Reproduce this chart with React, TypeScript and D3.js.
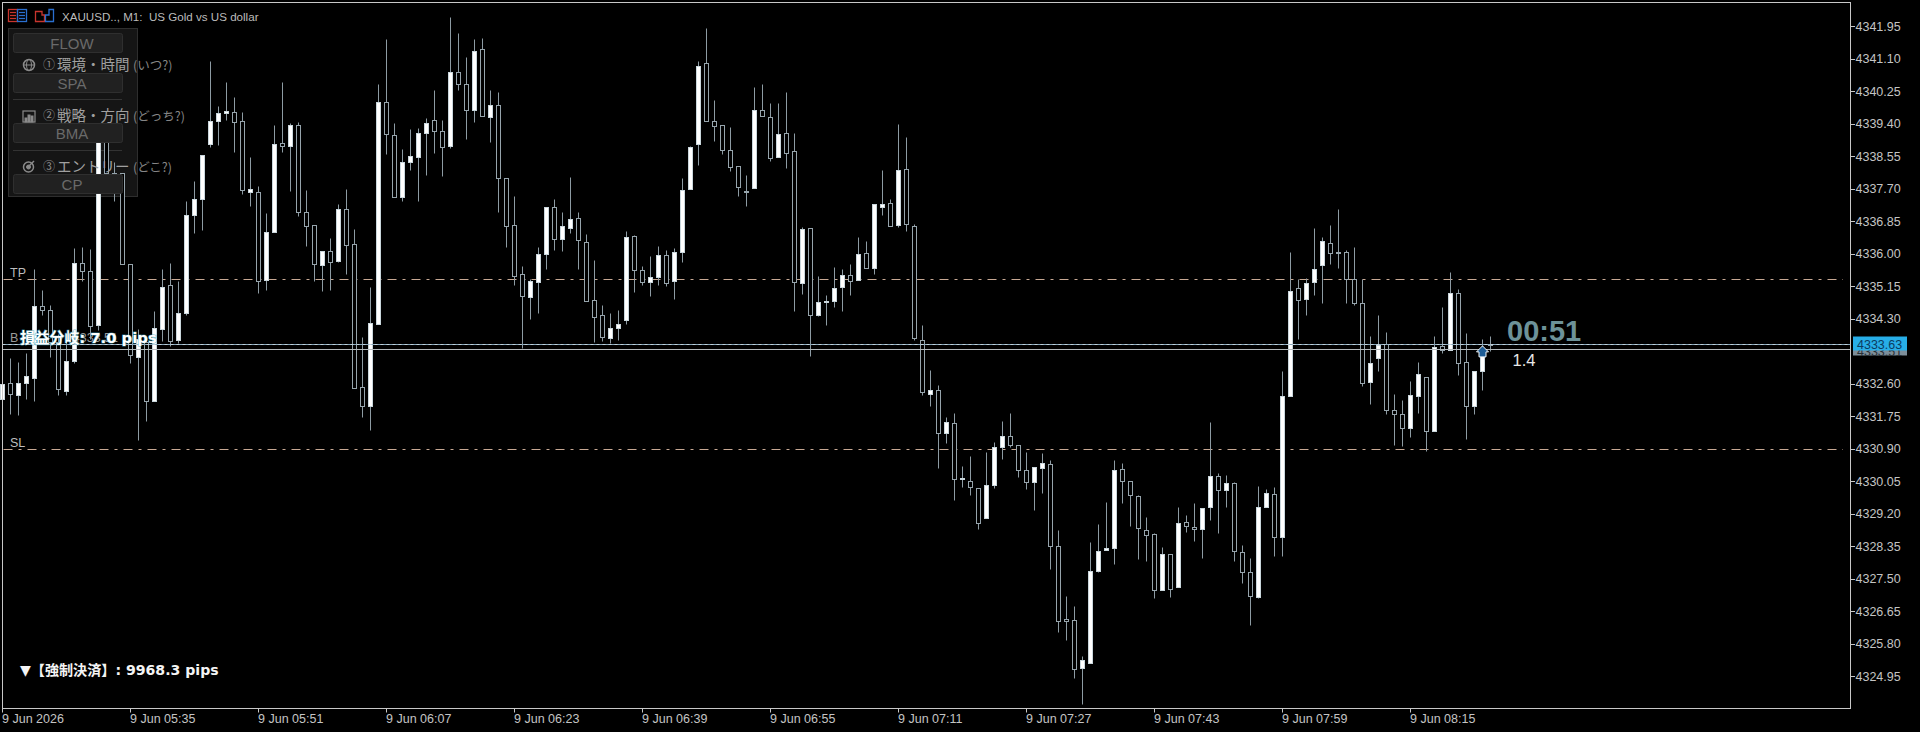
import React, { useEffect, useRef } from 'react';
import * as d3 from 'd3';

const opens = [
  4332.19, 4332.62, 4332.31, 4332.62, 4332.75, 4334.64, 4334.53, 4333.68, 4332.40, 4333.20,
  4335.76, 4335.54, 4334.15, 4339.25, 4338.12, 4338.11, 4335.74, 4333.30, 4333.68, 4332.14,
  4334.04, 4335.19, 4333.74, 4334.45, 4337.02, 4337.44, 4338.86, 4339.48, 4339.67, 4339.71,
  4339.48, 4337.61, 4337.62, 4335.31, 4336.57, 4338.90, 4338.81, 4339.37, 4337.08, 4336.75,
  4335.70, 4336.08, 4335.80, 4337.16, 4336.26, 4332.52, 4332.01, 4334.17, 4339.97, 4339.11,
  4337.48, 4338.39, 4338.53, 4339.16, 4339.50, 4339.21, 4338.81, 4340.76, 4340.44, 4339.76,
  4341.36, 4339.58, 4339.89, 4337.98, 4336.76, 4335.46, 4334.87, 4335.25, 4336.00, 4337.23,
  4336.39, 4336.68, 4336.94, 4336.31, 4334.79, 4334.40, 4333.80, 4334.06, 4334.26, 4336.47,
  4335.58, 4335.25, 4335.38, 4335.97, 4335.28, 4336.05, 4337.70, 4338.87, 4340.99, 4339.47,
  4339.37, 4338.72, 4338.30, 4337.63, 4337.72, 4339.76, 4339.58, 4338.53, 4339.16, 4338.69,
  4335.24, 4336.68, 4334.40, 4334.73, 4334.76, 4335.13, 4335.45, 4335.32, 4336.02, 4335.63,
  4337.23, 4337.33, 4336.76, 4338.22, 4336.73, 4333.74, 4332.34, 4332.44, 4331.32, 4331.58,
  4330.11, 4330.06, 4329.88, 4329.08, 4329.96, 4330.95, 4331.24, 4330.99, 4330.35, 4330.03,
  4330.41, 4330.50, 4328.35, 4326.45, 4326.42, 4325.17, 4325.30, 4327.70, 4328.26, 4328.31,
  4330.37, 4330.06, 4329.67, 4328.79, 4328.67, 4327.21, 4328.15, 4327.29, 4328.99, 4328.86,
  4328.80, 4329.38, 4330.19, 4329.82, 4330.01, 4328.20, 4327.68, 4327.03, 4329.38, 4329.73,
  4328.60, 4332.28, 4335.11, 4334.82, 4335.26, 4335.71, 4336.28, 4336.05, 4336.05, 4335.34,
  4334.72, 4332.65, 4333.28, 4333.64, 4331.92, 4331.81, 4331.45, 4332.28, 4332.78, 4331.37,
  4333.59, 4333.49, 4334.98, 4333.17, 4332.02, 4332.94, 4333.63,
];

const highs = [
  4332.60, 4333.28, 4333.17, 4333.41, 4335.60, 4335.04, 4334.67, 4333.89, 4333.76, 4336.15,
  4336.18, 4336.13, 4339.25, 4339.35, 4338.41, 4338.11, 4335.74, 4334.02, 4333.76, 4334.51,
  4335.59, 4335.76, 4335.28, 4337.37, 4337.90, 4338.59, 4341.05, 4339.86, 4340.49, 4340.10,
  4339.71, 4338.53, 4337.76, 4337.07, 4339.37, 4340.49, 4339.42, 4339.44, 4337.66, 4336.75,
  4336.07, 4336.40, 4337.29, 4337.70, 4336.66, 4333.83, 4335.13, 4340.45, 4341.62, 4339.42,
  4338.74, 4339.27, 4339.29, 4339.55, 4340.29, 4339.50, 4342.20, 4341.78, 4341.15, 4341.62,
  4341.65, 4340.29, 4340.23, 4337.98, 4337.50, 4335.67, 4335.34, 4336.18, 4337.23, 4337.42,
  4337.10, 4338.01, 4337.10, 4336.52, 4335.84, 4334.67, 4334.45, 4334.54, 4336.59, 4336.50,
  4335.69, 4335.95, 4336.21, 4336.11, 4336.15, 4337.98, 4338.83, 4341.04, 4341.91, 4340.03,
  4339.37, 4339.32, 4338.30, 4338.05, 4340.36, 4340.43, 4339.95, 4339.95, 4340.23, 4339.16,
  4336.70, 4336.68, 4335.41, 4334.92, 4335.66, 4335.60, 4335.72, 4336.44, 4336.34, 4337.30,
  4338.18, 4337.42, 4339.40, 4339.06, 4336.79, 4334.13, 4332.97, 4332.57, 4331.73, 4331.84,
  4330.46, 4330.70, 4329.88, 4330.82, 4331.08, 4331.64, 4331.84, 4330.99, 4330.82, 4330.42,
  4330.79, 4330.61, 4328.78, 4327.06, 4326.80, 4325.49, 4328.47, 4328.94, 4329.52, 4330.62,
  4330.53, 4330.06, 4329.69, 4329.12, 4328.70, 4328.33, 4328.15, 4329.38, 4329.17, 4329.49,
  4329.35, 4331.60, 4330.27, 4330.22, 4330.02, 4328.39, 4328.05, 4329.94, 4329.85, 4329.90,
  4332.94, 4336.05, 4335.34, 4335.37, 4336.68, 4336.44, 4336.76, 4337.16, 4336.10, 4336.18,
  4335.34, 4333.86, 4334.40, 4333.96, 4332.34, 4332.18, 4332.68, 4333.17, 4332.78, 4333.86,
  4334.61, 4335.53, 4335.08, 4333.93, 4332.94, 4333.76, 4333.86,
];

const lows = [
  4332.19, 4331.82, 4331.79, 4332.19, 4332.16, 4334.41, 4333.31, 4332.32, 4332.32, 4333.15,
  4335.28, 4333.76, 4334.00, 4338.10, 4337.37, 4335.74, 4333.15, 4331.14, 4331.62, 4332.14,
  4333.71, 4333.60, 4333.67, 4334.41, 4336.55, 4336.63, 4338.79, 4338.84, 4339.51, 4338.65,
  4337.55, 4337.26, 4334.98, 4335.05, 4336.57, 4338.65, 4337.65, 4337.00, 4336.20, 4335.28,
  4335.02, 4335.06, 4335.79, 4335.46, 4332.49, 4331.73, 4331.40, 4334.17, 4338.62, 4337.48,
  4337.37, 4338.18, 4337.37, 4338.05, 4338.63, 4338.03, 4338.77, 4340.29, 4338.99, 4339.44,
  4339.60, 4338.93, 4337.08, 4336.17, 4335.19, 4333.54, 4334.30, 4334.45, 4335.60, 4336.11,
  4336.08, 4336.53, 4335.59, 4334.76, 4333.70, 4333.71, 4333.67, 4333.74, 4334.17, 4334.99,
  4335.19, 4334.89, 4335.19, 4335.15, 4334.83, 4335.78, 4337.70, 4338.31, 4339.47, 4338.94,
  4338.62, 4338.16, 4337.50, 4337.26, 4337.72, 4339.60, 4338.42, 4338.53, 4338.25, 4334.50,
  4334.96, 4333.32, 4334.37, 4334.15, 4334.60, 4334.50, 4334.93, 4335.32, 4335.62, 4335.46,
  4337.01, 4336.73, 4336.70, 4336.59, 4333.74, 4332.30, 4332.03, 4330.40, 4331.04, 4329.55,
  4329.90, 4329.70, 4328.81, 4329.08, 4329.88, 4330.64, 4330.96, 4330.15, 4329.84, 4329.31,
  4329.75, 4327.77, 4326.10, 4325.91, 4324.92, 4324.24, 4325.30, 4327.67, 4328.26, 4327.90,
  4329.49, 4328.87, 4328.03, 4327.96, 4326.99, 4327.21, 4327.03, 4327.29, 4328.73, 4328.50,
  4328.05, 4329.03, 4328.70, 4329.38, 4327.96, 4327.39, 4326.30, 4327.00, 4329.38, 4328.11,
  4328.11, 4332.28, 4333.76, 4334.41, 4334.91, 4334.72, 4335.74, 4335.63, 4334.72, 4334.67,
  4332.53, 4332.06, 4332.93, 4331.81, 4331.00, 4330.98, 4331.21, 4331.84, 4330.84, 4331.37,
  4333.41, 4333.49, 4332.83, 4331.16, 4331.81, 4332.45, 4333.45,
];

const closes = [
  4332.60, 4332.34, 4332.62, 4332.81, 4334.64, 4334.52, 4333.68, 4332.47, 4333.20, 4335.76,
  4335.54, 4334.10, 4339.25, 4338.12, 4338.10, 4335.74, 4333.36, 4333.76, 4332.14, 4334.06,
  4335.13, 4333.71, 4334.44, 4337.02, 4337.44, 4338.59, 4339.48, 4339.69, 4339.73, 4339.45,
  4337.68, 4337.70, 4335.28, 4336.57, 4338.87, 4338.81, 4339.37, 4337.08, 4336.72, 4335.74,
  4336.07, 4335.79, 4337.17, 4336.22, 4332.49, 4332.01, 4334.19, 4339.97, 4339.14, 4337.48,
  4338.39, 4338.56, 4339.16, 4339.42, 4339.21, 4338.79, 4340.76, 4340.44, 4339.76, 4341.31,
  4339.60, 4339.89, 4337.97, 4336.72, 4335.41, 4334.89, 4335.29, 4336.00, 4337.23, 4336.39,
  4336.72, 4336.91, 4336.36, 4334.76, 4334.35, 4333.83, 4334.06, 4334.17, 4336.44, 4335.58,
  4335.25, 4335.38, 4335.97, 4335.24, 4336.05, 4337.67, 4338.80, 4340.91, 4339.47, 4339.35,
  4338.72, 4338.26, 4337.75, 4337.61, 4339.76, 4339.60, 4338.50, 4339.14, 4338.63, 4335.25,
  4336.65, 4334.40, 4334.73, 4334.76, 4335.11, 4335.44, 4335.29, 4336.00, 4335.62, 4337.30,
  4337.30, 4336.73, 4338.19, 4336.78, 4333.79, 4332.38, 4332.43, 4331.32, 4331.60, 4330.11,
  4330.14, 4329.90, 4328.95, 4329.96, 4330.95, 4331.23, 4330.99, 4330.35, 4330.03, 4330.42,
  4330.52, 4328.35, 4326.39, 4326.40, 4325.14, 4325.37, 4327.71, 4328.23, 4328.31, 4330.35,
  4330.06, 4329.69, 4328.82, 4328.65, 4327.21, 4328.15, 4327.24, 4328.96, 4328.88, 4328.80,
  4329.35, 4330.19, 4329.82, 4330.01, 4328.23, 4327.68, 4327.05, 4329.38, 4329.75, 4328.60,
  4332.28, 4335.03, 4334.79, 4335.24, 4335.60, 4336.34, 4336.02, 4336.04, 4335.34, 4334.72,
  4332.62, 4333.14, 4333.62, 4331.92, 4331.81, 4331.45, 4332.31, 4332.86, 4331.37, 4333.56,
  4333.49, 4334.98, 4333.15, 4332.02, 4332.94, 4333.42, 4333.63,
];

const priceTicks = [
  4341.95, 4341.1, 4340.25, 4339.4, 4338.55, 4337.7, 4336.85, 4336.0, 4335.15, 4334.3,
  4332.6, 4331.75, 4330.9, 4330.05, 4329.2, 4328.35, 4327.5, 4326.65, 4325.8, 4324.95,
];
const timeTickBars = [0, 16, 32, 48, 64, 80, 96, 112, 128, 144, 160, 176];
const timeTickLabels = [
  '9 Jun 2026', '9 Jun 05:35', '9 Jun 05:51', '9 Jun 06:07', '9 Jun 06:23', '9 Jun 06:39',
  '9 Jun 06:55', '9 Jun 07:11', '9 Jun 07:27', '9 Jun 07:43', '9 Jun 07:59', '9 Jun 08:15',
];

const bid = 4333.63;
const breakEven = 4333.51;
const takeProfit = 4335.34;
const stopLoss = 4330.9;
const entryBar = 185;

const flowButtons = ['FLOW', 'SPA', 'BMA', 'CP'];
const flowSteps = [
  { no: '①', title: '環境・時間', hint: '(いつ?)' },
  { no: '②', title: '戦略・方向', hint: '(どっち?)' },
  { no: '③', title: 'エントリー', hint: '(どこ?)' },
];

const WIDTH = 1920;
const HEIGHT = 732;
const plot = { left: 2.5, top: 2.5, right: 1850.5, bottom: 708.5 };
const UI_FONT = '"Liberation Sans", "Noto Sans CJK JP", sans-serif';
const CJK_FONT = '"Noto Sans CJK JP", "Liberation Sans", sans-serif';
const BOLD_FONT = '"DejaVu Sans", "Noto Sans CJK JP", sans-serif';

const snap = (v: number) => Math.round(v - 0.5) + 0.5;

function App() {
  const svgRef = useRef<SVGSVGElement | null>(null);

  useEffect(() => {
    const svg = d3.select(svgRef.current);
    svg.selectAll('*').remove();

    const x = d3.scaleLinear().domain([0, 186]).range([2.5, 1490.5]);
    const y = d3.scaleLinear().domain([4324.123, 4342.583]).range([plot.bottom, plot.top]);
    const bars = d3.range(opens.length);

    svg.append('rect').attr('width', WIDTH).attr('height', HEIGHT).attr('fill', '#000');

    // panel sits behind the candles, only its buttons are on top
    svg.append('rect')
      .attr('x', 8.5).attr('y', 28.5).attr('width', 129).attr('height', 168)
      .attr('fill', '#151515').attr('stroke', '#2e2e2e');
    [99.5, 150.5].forEach((sy) => {
      svg.append('line')
        .attr('x1', 13).attr('x2', 122).attr('y1', sy).attr('y2', sy)
        .attr('stroke', '#333');
    });

    // TP / SL
    [takeProfit, stopLoss].forEach((p) => {
      svg.append('line')
        .attr('x1', plot.left + 1).attr('x2', 1843)
        .attr('y1', snap(y(p))).attr('y2', snap(y(p)))
        .attr('stroke', '#c8a994')
        .attr('stroke-dasharray', '9 6 3 6');
    });

    // candles
    const candles = svg.append('g');
    candles.selectAll('line')
      .data(bars)
      .enter()
      .append('line')
      .attr('x1', (i) => x(i))
      .attr('x2', (i) => x(i))
      .attr('y1', (i) => snap(y(highs[i])))
      .attr('y2', (i) => snap(y(lows[i])))
      .attr('stroke', '#8d9ba3');
    candles.selectAll('rect')
      .data(bars)
      .enter()
      .append('rect')
      .attr('x', (i) => x(i) - 2)
      .attr('width', 4)
      .attr('y', (i) => snap(y(Math.max(opens[i], closes[i]))))
      .attr('height', (i) =>
        Math.max(1, snap(y(Math.min(opens[i], closes[i]))) - snap(y(Math.max(opens[i], closes[i]))))
      )
      .attr('fill', (i) => (closes[i] > opens[i] ? '#fff' : '#000'))
      .attr('stroke', (i) => (closes[i] > opens[i] ? '#c9d6dc' : '#96a4ac'));

    // price lines
    svg.append('line')
      .attr('x1', plot.left).attr('x2', plot.right)
      .attr('y1', snap(y(bid))).attr('y2', snap(y(bid)))
      .attr('stroke', '#86a6ba');
    svg.append('line')
      .attr('x1', plot.left).attr('x2', plot.right)
      .attr('y1', snap(y(bid))).attr('y2', snap(y(bid)))
      .attr('stroke', '#e8eef2')
      .attr('stroke-opacity', 0.6)
      .attr('stroke-dasharray', '3 3');
    svg.append('line')
      .attr('x1', plot.left).attr('x2', plot.right)
      .attr('y1', snap(y(breakEven))).attr('y2', snap(y(breakEven)))
      .attr('stroke', '#b4b9bc');

    // entry arrow
    const ax = x(entryBar);
    const ay = y(bid) + 1;
    svg.append('path')
      .attr('d', `M${ax},${ay} L${ax + 6},${ay + 6} L${ax + 3.5},${ay + 6} L${ax + 3.5},${ay + 11} L${ax - 3.5},${ay + 11} L${ax - 3.5},${ay + 6} L${ax - 6},${ay + 6} Z`)
      .attr('fill', '#1c5c96')
      .attr('stroke', '#f4f8fa');

    // frame
    svg.append('rect')
      .attr('x', plot.left).attr('y', plot.top)
      .attr('width', plot.right - plot.left).attr('height', plot.bottom - plot.top)
      .attr('fill', 'none')
      .attr('stroke', '#c8c8c8');

    // axes
    const yAxis = svg.append('g')
      .attr('transform', `translate(${plot.right},0)`)
      .call(d3.axisRight(y).tickValues(priceTicks).tickFormat(d3.format('.2f')).tickSize(4).tickPadding(1).offset(0));
    yAxis.select('.domain').remove();
    yAxis.selectAll('line').attr('stroke', '#c8c8c8').attr('shape-rendering', 'crispEdges');
    yAxis.selectAll('text')
      .attr('fill', '#c4c4c4')
      .style('font', `12.5px ${UI_FONT}`);

    const xAxis = svg.append('g')
      .attr('transform', `translate(0,${plot.bottom})`)
      .call(
        d3.axisBottom(x)
          .tickValues(timeTickBars)
          .tickFormat((d, i) => timeTickLabels[i])
          .tickSize(4)
          .tickPadding(2)
          .offset(0)
      );
    xAxis.select('.domain').remove();
    xAxis.selectAll('line').attr('stroke', '#c8c8c8');
    xAxis.selectAll('text')
      .attr('fill', '#c4c4c4')
      .attr('text-anchor', 'start')
      .attr('dx', -0.5)
      .style('font', `12.5px ${UI_FONT}`);

    // price tags
    const tagY = snap(y(bid));
    svg.append('rect').attr('x', 1853).attr('y', tagY + 4).attr('width', 54).attr('height', 7).attr('fill', '#7d8e9a');
    svg.append('text').attr('x', 1857).attr('y', tagY + 11).text(d3.format('.2f')(breakEven))
      .attr('fill', '#2a3036').style('font', `12.5px ${UI_FONT}`);
    svg.append('rect').attr('x', 1853).attr('y', tagY - 8).attr('width', 54).attr('height', 14).attr('fill', '#27aee8');
    svg.append('text').attr('x', 1857).attr('y', tagY + 4).text(d3.format('.2f')(bid))
      .attr('fill', '#0c3c60').style('font', `12.5px ${UI_FONT}`);

    const label = (
      tx: number, ty: number, s: string, fill: string, font: string,
      anchor: string = 'start'
    ) =>
      svg.append('text')
        .attr('x', tx).attr('y', ty)
        .attr('fill', fill)
        .attr('text-anchor', anchor)
        .attr('dominant-baseline', 'central')
        .style('font', font)
        .style('white-space', 'pre')
        .text(s);

    label(10, 273, 'TP', '#bdbdbd', `12.5px ${UI_FONT}`);
    label(10, 443, 'SL', '#bdbdbd', `12.5px ${UI_FONT}`);
    label(10, 338, 'B', '#9a9a9a', `12.5px ${UI_FONT}`);
    label(118, 338, d3.format('.2f')(breakEven), '#9a9a9a', `12.5px ${UI_FONT}`, 'end');
    label(20, 337, '損益分岐: 7.0 pips', '#fff', `bold 14.8px ${BOLD_FONT}`)
      .attr('stroke', '#3f9fb8')
      .attr('stroke-width', 1.2)
      .attr('stroke-opacity', 0.7)
      .style('paint-order', 'stroke');
    label(20, 670, '▼【強制決済】: 9968.3 pips', '#f4f4f4', `bold 14.1px ${BOLD_FONT}`);

    label(1507, 331, '00:51', '#6d9299', `bold 29px ${UI_FONT}`);
    label(1512.5, 360, '1.4', '#e8e8e8', `16.5px ${UI_FONT}`);

    // header
    label(62, 16, 'XAUUSD.., M1:  US Gold vs US dollar', '#bcbcbc', `11.6px ${UI_FONT}`);
    const logo = svg.append('g').attr('fill', 'none').attr('stroke-width', 1.3);
    logo.append('rect').attr('x', 8.5).attr('y', 9.5).attr('width', 9).attr('height', 12).attr('stroke', '#c8352e');
    logo.append('rect').attr('x', 17.5).attr('y', 9.5).attr('width', 9).attr('height', 12).attr('stroke', '#2a6fd0');
    [12.5, 15.5, 18.5].forEach((ly) => {
      logo.append('line').attr('x1', 10).attr('x2', 16).attr('y1', ly).attr('y2', ly).attr('stroke', '#c8352e');
      logo.append('line').attr('x1', 19).attr('x2', 25).attr('y1', ly).attr('y2', ly).attr('stroke', '#2a6fd0');
    });
    logo.append('path').attr('d', 'M35.5,21.5 V11.5 H42 V15 H44.5 V21.5 Z').attr('stroke', '#c8352e');
    logo.append('path').attr('d', 'M45.5,21.5 V15 H49 V9.5 H53.5 V21.5 Z').attr('stroke', '#2a6fd0');

    // flow buttons go above the candles
    const buttonTops = [33.5, 73.5, 123.5, 174.5];
    flowButtons.forEach((name, i) => {
      svg.append('rect')
        .attr('x', 13.5).attr('y', buttonTops[i]).attr('width', 109).attr('height', 19).attr('rx', 2)
        .attr('fill', '#212121').attr('stroke', '#2f2f2f');
      label(72, buttonTops[i] + 10, name, '#6a6a6a', `15px ${UI_FONT}`, 'middle');
    });

    const stepY = [63, 114, 165];
    flowSteps.forEach((step, i) => {
      label(43, stepY[i], step.no, '#8c8c8c', `12px ${CJK_FONT}`);
      label(57, stepY[i], step.title, '#a0a0a0', `14.5px ${CJK_FONT}`);
      label(133, stepY[i] + 1, step.hint, '#858585', `12.5px ${CJK_FONT}`);
    });

    // step icons
    const icons = svg.append('g').attr('stroke', '#8a8a8a').attr('fill', 'none');
    icons.append('circle').attr('cx', 29).attr('cy', 65).attr('r', 5.5).attr('stroke-width', 1.5);
    icons.append('ellipse').attr('cx', 29).attr('cy', 65).attr('rx', 2.5).attr('ry', 5.5);
    icons.append('line').attr('x1', 23.5).attr('x2', 34.5).attr('y1', 65).attr('y2', 65);
    icons.append('rect').attr('x', 23).attr('y', 111).attr('width', 12).attr('height', 11).attr('stroke-width', 1.2);
    [[25, 118], [28, 115], [31, 116]].forEach(([bx, by]) => {
      icons.append('rect').attr('x', bx).attr('y', by).attr('width', 2).attr('height', 122 - by).attr('fill', '#8a8a8a');
    });
    icons.append('circle').attr('cx', 28.5).attr('cy', 167).attr('r', 5).attr('stroke-width', 1.5);
    icons.append('circle').attr('cx', 28.5).attr('cy', 167).attr('r', 2).attr('fill', '#8a8a8a');
    icons.append('line').attr('x1', 29).attr('x2', 34).attr('y1', 166).attr('y2', 161).attr('stroke-width', 1.5);
  }, []);

  return (
    <svg
      ref={svgRef}
      width={WIDTH}
      height={HEIGHT}
      style={{ position: 'absolute', left: 0, top: 0, display: 'block' }}
    />
  );
}

export default App;
